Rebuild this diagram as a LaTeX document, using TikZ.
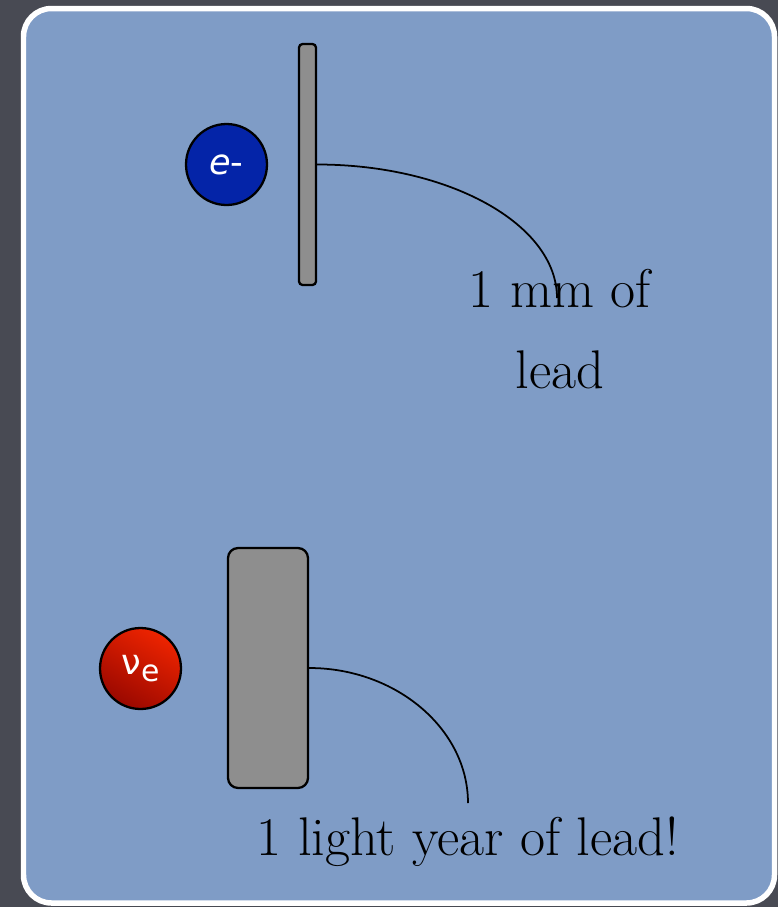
\documentclass[tikz,border=0pt]{standalone}
\usepackage{fontspec}
\newfontfamily\ballfont{DejaVu Sans}
\definecolor{slate}{HTML}{484A53}
\definecolor{sky}{HTML}{7F9CC6}
\definecolor{leadgray}{HTML}{8E8E8E}
\definecolor{eblue}{HTML}{0424A8}
\definecolor{nuredA}{HTML}{EE2400}
\definecolor{nuredB}{HTML}{9A0800}
\begin{document}
\begin{tikzpicture}
          [x=0.02cm,y=-0.02cm,
          plate/.style={draw=black,fill=leadgray,line width=1.3pt,inner sep=0pt},
          ball/.style={shape=circle,draw=black,line width=1.3pt,minimum size=1.62cm,inner sep=0pt,text=white,font=\ballfont\fontsize{20}{22}\selectfont},
          note/.style={font=\fontsize{31}{46}\selectfont,align=center,inner sep=0pt},
          wire/.style={line width=1pt}]

          % backdrop and slide frame
          \fill[slate] (0,0) rectangle (778,907);
          \useasboundingbox (0,0) rectangle (778,907);
          \draw[white,fill=sky,line width=0.11cm,rounded corners=0.56cm] (23.5,8.5) rectangle (774.5,903);

            \node (thin) [plate,minimum width=0.34cm,minimum height=4.82cm,rounded corners=2pt] at (307.5,164.5) {};
            \node (thick) [plate,minimum width=1.6cm,minimum height=4.8cm,rounded corners=0.2cm] at (268,668) {};
            \node (elec) [ball,fill=eblue] at (226.5,164.5) {\textit{e}-};
            \node (nu) [ball,shading=axis,top color=nuredA,bottom color=nuredB,shading angle=-30] at (140.5,668.5) {ν\raisebox{-0.35ex}{\fontsize{17}{18}\selectfont e}};

            \node (mm) [note,anchor=base] at (560,388) {1 mm of\\lead};
            \node (year) [note,anchor=base] at (468,855) {1 light year of lead!};

          \coordinate (A1) at (557,298);
          \coordinate (A2) at (468,803);

          \draw [wire] (thin.east) .. controls (449,164.5) and (557,224) .. (A1);
            \draw [wire] (thick.east) .. controls (396,668) and (468,729) .. (A2);

        \end{tikzpicture}
\end{document}
